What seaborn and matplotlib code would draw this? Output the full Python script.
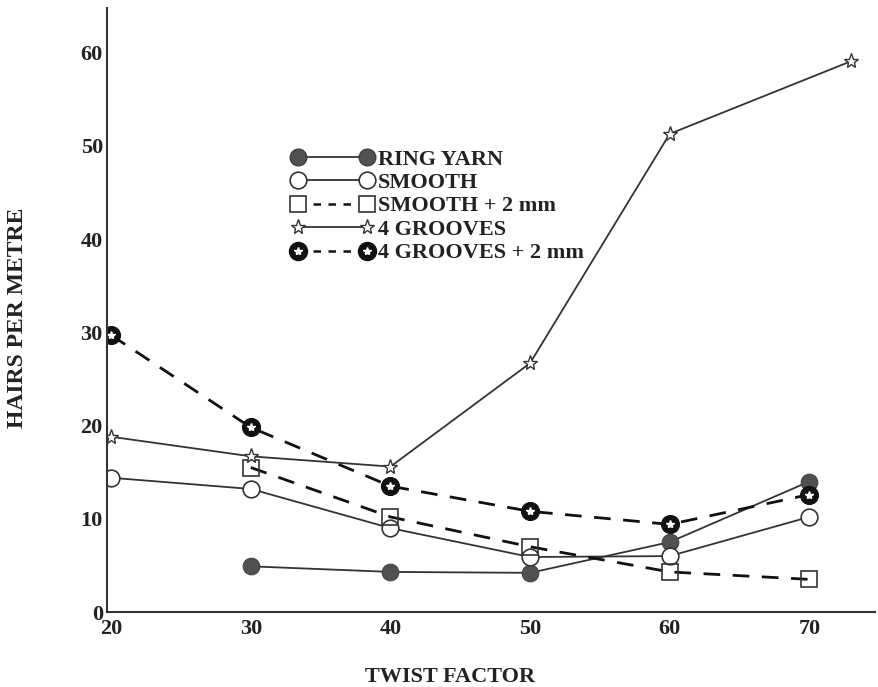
import matplotlib
matplotlib.use("Agg")
import matplotlib.pyplot as plt
import seaborn as sns
import pandas as pd
from matplotlib.lines import Line2D

# ---- data ----
ring_x = [30, 40, 50, 60, 70]
ring_y = [4.9, 4.3, 4.2, 7.5, 14.0]

smooth_x = [20, 30, 40, 50, 60, 70]
smooth_y = [14.4, 13.2, 9.0, 5.9, 6.0, 10.2]

smooth2_x = [30, 40, 50, 60, 70]
smooth2_y = [15.5, 10.2, 7.0, 4.3, 3.5]

grooves_x = [20, 30, 40, 50, 60, 73]
grooves_y = [18.8, 16.7, 15.6, 26.7, 51.3, 59.1]

grooves2_x = [20, 30, 40, 50, 60, 70]
grooves2_y = [29.7, 19.8, 13.5, 10.8, 9.4, 12.6]

x_ticks = [20, 30, 40, 50, 60, 70]
y_ticks = [0, 10, 20, 30, 40, 50, 60]
labels = ["RING YARN", "SMOOTH", "SMOOTH + 2 mm", "4 GROOVES", "4 GROOVES + 2 mm"]

sns.set_style("white")
plt.rcParams["font.family"] = ["Liberation Serif", "DejaVu Serif"]
plt.rcParams["font.weight"] = "bold"

fig = plt.figure(figsize=(8.79, 6.87), dpi=100)
ax = fig.add_axes([107 / 879, 1 - 612 / 687, (875 - 107) / 879, (612 - 8) / 687])

line_c = "#333333"
dash = (6, 4.5)

def df(x, y):
    return pd.DataFrame({"x": x, "y": y})

sns.lineplot(data=df(ring_x, ring_y), x="x", y="y", ax=ax, color=line_c, lw=1.3,
             marker="o", markersize=12, markerfacecolor="#505050",
             markeredgecolor="#404040", sort=False)
sns.lineplot(data=df(smooth_x, smooth_y), x="x", y="y", ax=ax, color=line_c, lw=1.3,
             marker="o", markersize=12, markerfacecolor="white",
             markeredgecolor="#333333", markeredgewidth=1.2, sort=False)
sns.lineplot(data=df(smooth2_x, smooth2_y), x="x", y="y", ax=ax, color="#111111", lw=2.0,
             dashes=False, linestyle=(0, dash), marker="s", markersize=12,
             markerfacecolor="none", markeredgecolor="#333333", markeredgewidth=1.2,
             sort=False)
sns.lineplot(data=df(grooves_x, grooves_y), x="x", y="y", ax=ax, color=line_c, lw=1.3,
             marker="*", markersize=11, markerfacecolor="white",
             markeredgecolor="#333333", markeredgewidth=1.0, sort=False)
sns.lineplot(data=df(grooves2_x, grooves2_y), x="x", y="y", ax=ax, color="#111111", lw=2.0,
             dashes=False, linestyle=(0, dash), marker="o", markersize=13,
             markerfacecolor="#111111", markeredgecolor="#111111", sort=False)
ax.plot(grooves2_x, grooves2_y, ls="none", marker="*", markersize=6,
        markerfacecolor="white", markeredgecolor="white")

ax.set_xlim(19.7, 74.7)
ax.set_ylim(0, 64.8)
ax.set_xticks(x_ticks)
ax.set_yticks(y_ticks)
ax.set_xticklabels([str(v) for v in x_ticks], fontsize=16, fontweight="bold")
ax.set_yticklabels([str(v) for v in y_ticks], fontsize=16, fontweight="bold")
ax.tick_params(axis="both", direction="in", length=12, width=1.2, color="#333333",
               labelcolor="#222222")
ax.tick_params(axis="x", pad=5)
ax.tick_params(axis="y", pad=3)

for s in ["top", "right"]:
    ax.spines[s].set_visible(False)
for s in ["left", "bottom"]:
    ax.spines[s].set_color("#333333")
    ax.spines[s].set_linewidth(1.5)

ax.set_xlabel("")
ax.set_ylabel("")
fig.text(450 / 879, 1 - 677 / 687, "TWIST FACTOR", ha="center", va="center",
         fontsize=16, fontweight="bold", color="#222222")
fig.text(18 / 879, 1 - 318 / 687, "HAIRS PER METRE", ha="center", va="center",
         rotation=90, fontsize=17, fontweight="bold", color="#222222")

h_ring = Line2D([], [], color=line_c, lw=1.3, marker="o", markersize=12,
                markerfacecolor="#505050", markeredgecolor="#404040")
h_smooth = Line2D([], [], color=line_c, lw=1.3, marker="o", markersize=12,
                  markerfacecolor="white", markeredgecolor="#333333", markeredgewidth=1.2)
h_smooth2 = Line2D([], [], color="#111111", lw=1.8, linestyle=(0, (3, 3)), marker="s",
                   markersize=12, markerfacecolor="white", markeredgecolor="#333333",
                   markeredgewidth=1.2)
h_groove = Line2D([], [], color=line_c, lw=1.3, marker="*", markersize=11,
                  markerfacecolor="white", markeredgecolor="#333333")
h_groove2a = Line2D([], [], color="#111111", lw=1.8, linestyle=(0, (3, 3)), marker="o",
                    markersize=13, markerfacecolor="#111111", markeredgecolor="#111111")
h_groove2b = Line2D([], [], ls="none", marker="*", markersize=6,
                    markerfacecolor="white", markeredgecolor="white")

leg = fig.legend([h_ring, h_smooth, h_smooth2, h_groove, (h_groove2a, h_groove2b)], labels,
                 loc="upper left", bbox_to_anchor=(291 / 879, 1 - 149 / 687),
                 bbox_transform=fig.transFigure, frameon=False, numpoints=2,
                 handlelength=3.7, handletextpad=0.2, labelspacing=0.13,
                 borderaxespad=0, borderpad=0,
                 prop={"family": "Liberation Serif", "weight": "bold", "size": 16})
for t in leg.get_texts():
    t.set_color("#222222")

fig.savefig("out.png", dpi=100)
